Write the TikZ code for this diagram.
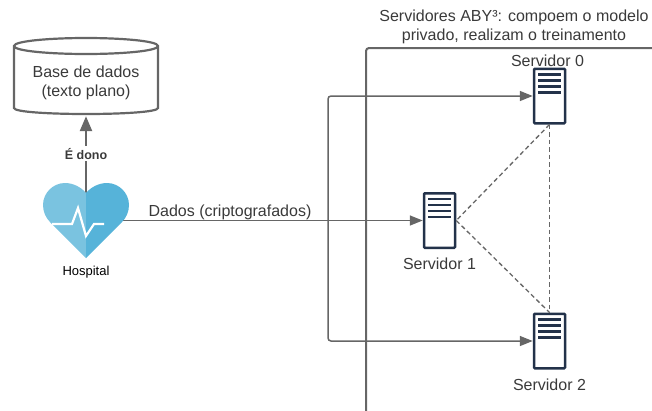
\documentclass[tikz,border=0pt]{standalone}
\usepackage{fontspec}
\setmainfont{Liberation Sans}
\usetikzlibrary{arrows.meta}
\definecolor{txt}{HTML}{3A3A3A}
\definecolor{ln}{HTML}{666666}
\definecolor{navy}{HTML}{23324A}
\definecolor{hl}{HTML}{7AC3E0}
\definecolor{hr}{HTML}{56B3D9}
\tikzset{
  label text/.style={text=txt,font=\fontsize{16}{19}\selectfont,align=center,inner sep=0pt},
  server/.style={draw=navy,line width=2.5pt,fill=white,rounded corners=0.8pt,minimum width=31pt,minimum height=54.5pt,inner sep=0pt},
  srvline/.style={draw=navy,line width=2.4pt},
  flow/.style={draw=ln,line width=1.5pt,rounded corners=3pt,-{Triangle[length=13pt,width=10pt]}},
  peer/.style={draw=ln,line width=1.3pt,dash pattern=on 4.5pt off 3pt},
}
\begin{document}
\begin{tikzpicture}[x=1pt,y=-1pt]
\useasboundingbox (0,0) rectangle (652,410);
% frame
\draw[ln,line width=2pt,rounded corners=3pt] (366,411) -- (366,48) -- (653,48);
% nodes
\node[minimum width=86pt,minimum height=75pt,inner sep=0pt] (hospital) at (86,220.5) {};
\node[minimum width=144pt,minimum height=78pt,inner sep=0pt] (db) at (86,77) {};
\node[server] (srv0) at (549.5,96) {};
\node[server] (srv1) at (439.5,220.5) {};
\node[server] (srv2) at (549.5,341) {};
\coordinate (jct) at (328,220.5);
% database cylinder
\draw[ln,line width=2.2pt,fill=white] (14,46) .. controls (14,41) and (50,38) .. (86,38) .. controls (122,38) and (158,41) .. (158,46)
  -- (158,108) .. controls (158,112) and (122,114) .. (86,114) .. controls (50,114) and (14,112) .. (14,108) -- cycle;
\draw[ln,line width=2.2pt] (14,46) .. controls (14,51) and (50,54) .. (86,54) .. controls (122,54) and (158,51) .. (158,46);
\node[label text] at (86,83) {Base de dados\\(texto plano)};
% connectors
\draw[ln,line width=2.5pt,-{Triangle[length=15pt,width=12pt]}] (hospital.center) -- node[pos=0.64,fill=white,inner sep=2pt,text=txt,font=\fontsize{12.5}{14}\selectfont\bfseries]{É dono} (db.south);
\draw[ln,line width=1.5pt] (hospital.center) -- (jct);
\draw[flow] (jct) |- (srv0.west);
\draw[flow] (jct) -- (srv1.west);
\draw[flow] (jct) |- (srv2.west);
\draw[peer] (srv0.south) -- (srv1.east);
\draw[peer] (srv0.south) -- (srv2.north);
\draw[peer] (srv1.east) -- (srv2.north);
% heart
\fill[hl] (86,193) .. controls (81,187) and (73,183) .. (65,183) .. controls (53,183) and (43,193) .. (43,205) .. controls (43,212) and (46,218) .. (50,222) -- (86,258) -- cycle;
\fill[hr] (86,193) .. controls (91,187) and (99,183) .. (107,183) .. controls (119,183) and (129,193) .. (129,205) .. controls (129,212) and (126,218) .. (122,222) -- (86,258) -- cycle;
\draw[white,line width=2.2pt,line join=miter] (52,224) -- (72,224) -- (78,208) -- (86,236) -- (94,224) -- (104,224);
% server details
\foreach \s in {srv0,srv1,srv2}{
  \foreach \d in {-21.5,-15.5,-9.5,-3.5}{
    \draw[srvline] ([xshift=-11.5pt,yshift=-\d pt]\s.center) -- ([xshift=11.5pt,yshift=-\d pt]\s.center);
  }
}
% labels
\node[text=black,font=\fontsize{13}{15}\selectfont,inner sep=0pt] (hlabel) at (86,272) {Hospital};
\node[label text] (dlabel) at (230,212.5) {Dados (criptografados)};
\node[label text] (title) at (514,27) {Servidores ABY³: compoem o modelo\\privado, realizam o treinamento};
\node[label text] (s0) at (547.5,60.5) {Servidor 0};
\node[label text] (s1) at (439.5,264) {Servidor 1};
\node[label text] (s2) at (549.5,385) {Servidor 2};
\end{tikzpicture}
\end{document}
